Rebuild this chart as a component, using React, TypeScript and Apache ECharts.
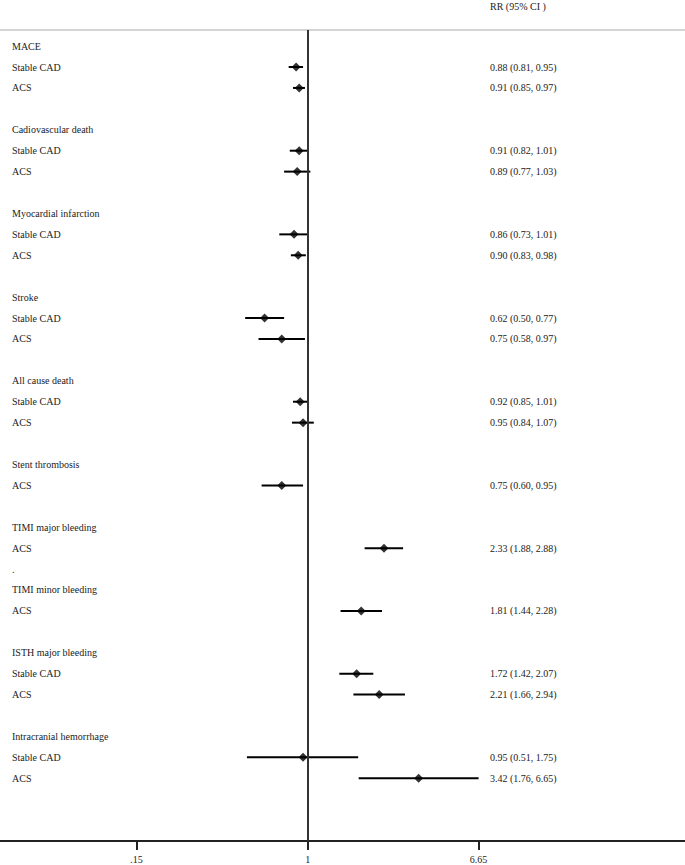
import React, { useEffect, useRef } from "react";
import * as echarts from "echarts";

// Row labels (top to bottom); empty strings are spacer rows
const rowLabels: string[] = [
  "MACE", "Stable CAD", "ACS", "",
  "Cadiovascular death", "Stable CAD", "ACS", "",
  "Myocardial infarction", "Stable CAD", "ACS", "",
  "Stroke", "Stable CAD", "ACS", "",
  "All cause death", "Stable CAD", "ACS", "",
  "Stent thrombosis", "ACS", "",
  "TIMI major bleeding", "ACS", ".",
  "TIMI minor bleeding", "ACS", "",
  "ISTH major bleeding", "Stable CAD", "ACS", "",
  "Intracranial hemorrhage", "Stable CAD", "ACS",
];

// Relative risk and 95% CI per row (null = no estimate)
const rr: (number | null)[] = [
  null, 0.88, 0.91, null,
  null, 0.91, 0.89, null,
  null, 0.86, 0.90, null,
  null, 0.62, 0.75, null,
  null, 0.92, 0.95, null,
  null, 0.75, null,
  null, 2.33, null,
  null, 1.81, null,
  null, 1.72, 2.21, null,
  null, 0.95, 3.42,
];
const lo: (number | null)[] = [
  null, 0.81, 0.85, null,
  null, 0.82, 0.77, null,
  null, 0.73, 0.83, null,
  null, 0.50, 0.58, null,
  null, 0.85, 0.84, null,
  null, 0.60, null,
  null, 1.88, null,
  null, 1.44, null,
  null, 1.42, 1.66, null,
  null, 0.51, 1.76,
];
const hi: (number | null)[] = [
  null, 0.95, 0.97, null,
  null, 1.01, 1.03, null,
  null, 1.01, 0.98, null,
  null, 0.77, 0.97, null,
  null, 1.01, 1.07, null,
  null, 0.95, null,
  null, 2.88, null,
  null, 2.28, null,
  null, 2.07, 2.94, null,
  null, 1.75, 6.65,
];

// X-axis tick values (RR scale) and their labels
const xTickValues = [0.15, 1, 6.65];
const xTickLabels = [".15", "1", "6.65"];
const headerText = "RR (95% CI )";

const FONT = "Liberation Serif, Times New Roman, serif";
const TXT = "#222";

export default function App() {
  const ref = useRef<HTMLDivElement>(null);

  useEffect(() => {
    if (!ref.current) return;
    const chart = echarts.init(ref.current, null, { renderer: "svg" });

    const est: { row: number; r: number; l: number; h: number }[] = [];
    rowLabels.forEach((_, i) => {
      if (rr[i] != null) est.push({ row: i, r: rr[i] as number, l: lo[i] as number, h: hi[i] as number });
    });
    const fmt = (v: number) => v.toFixed(2);
    const rightLabels = rowLabels.map((_, i) =>
      rr[i] != null ? `${fmt(rr[i] as number)} (${fmt(lo[i] as number)}, ${fmt(hi[i] as number)})` : ""
    );
    const allRows = rowLabels.map((_, i) => i).filter((i) => rowLabels[i] !== "");
    const estRows = est.map((e) => e.row);
    const tickLn = xTickValues.map((v) => Math.log(v));

    const labelFor = (v: number) => {
      let best = 0;
      tickLn.forEach((t, i) => {
        if (Math.abs(t - v) < Math.abs(tickLn[best] - v)) best = i;
      });
      return xTickLabels[best];
    };

    chart.setOption({
      animation: false,
      title: {
        text: headerText,
        left: 490,
        top: 1,
        padding: 0,
        textStyle: { fontFamily: FONT, fontSize: 10, fontWeight: "normal", color: TXT },
      },
      grid: { left: 0, right: 0, top: 30, bottom: 24, containLabel: false },
      xAxis: [
        {
          type: "value",
          position: "bottom",
          min: -3.411,
          max: 4.183,
          axisLine: { show: true, onZero: false, lineStyle: { color: "#222", width: 2 } },
          axisTick: {
            show: true,
            customValues: tickLn,
            length: 9,
            inside: false,
            lineStyle: { color: "#222", width: 2 },
          },
          axisLabel: {
            show: true,
            customValues: tickLn,
            margin: 13,
            formatter: (v: number) => labelFor(v),
            fontFamily: FONT,
            fontSize: 10,
            color: TXT,
          },
          splitLine: { show: false },
        },
        {
          type: "value",
          position: "top",
          min: -3.411,
          max: 4.183,
          axisLine: { show: true, onZero: false, lineStyle: { color: "#c6c6c6", width: 1.5 } },
          axisTick: { show: false },
          axisLabel: { show: false },
          splitLine: { show: false },
        },
      ],
      yAxis: [
        {
          type: "value",
          inverse: true,
          min: -0.77,
          max: 38.0,
          position: "left",
          axisLine: { show: false },
          axisTick: { show: false },
          splitLine: { show: false },
          axisLabel: {
            show: true,
            inside: true,
            margin: 12,
            customValues: allRows,
            formatter: (v: number) => rowLabels[Math.round(v)] ?? "",
            fontFamily: FONT,
            fontSize: 10,
            color: TXT,
            align: "left",
            verticalAlign: "middle",
          },
        },
        {
          type: "value",
          inverse: true,
          min: -0.77,
          max: 38.0,
          position: "left",
          offset: -490,
          axisLine: { show: false },
          axisTick: { show: false },
          splitLine: { show: false },
          axisLabel: {
            show: true,
            inside: true,
            margin: 0,
            customValues: estRows,
            formatter: (v: number) => rightLabels[Math.round(v)] ?? "",
            fontFamily: FONT,
            fontSize: 10,
            color: TXT,
            align: "left",
            verticalAlign: "middle",
          },
        },
      ],
      series: [
        {
          type: "custom",
          xAxisIndex: 0,
          yAxisIndex: 0,
          data: est.map((e) => [Math.log(e.l), Math.log(e.h), e.row]),
          renderItem: (_params: any, api: any) => {
            const a = api.coord([api.value(0), api.value(2)]);
            const b = api.coord([api.value(1), api.value(2)]);
            return {
              type: "line",
              shape: { x1: a[0], y1: a[1], x2: b[0], y2: b[1] },
              style: { stroke: "#000", lineWidth: 2 },
            };
          },
          markLine: {
            silent: true,
            symbol: "none",
            label: { show: false },
            lineStyle: { color: "#333", width: 2, type: "solid" },
            data: [{ xAxis: 0 }],
          },
          z: 2,
        },
        {
          type: "scatter",
          xAxisIndex: 0,
          yAxisIndex: 0,
          symbol: "diamond",
          symbolSize: [9, 9],
          itemStyle: { color: "#000" },
          data: est.map((e) => [Math.log(e.r), e.row]),
          z: 3,
        },
      ],
    });

    return () => chart.dispose();
  }, []);

  return (
    <div
      ref={ref}
      style={{ position: "fixed", left: 0, top: 0, width: 685, height: 865, background: "#fff" }}
    />
  );
}
